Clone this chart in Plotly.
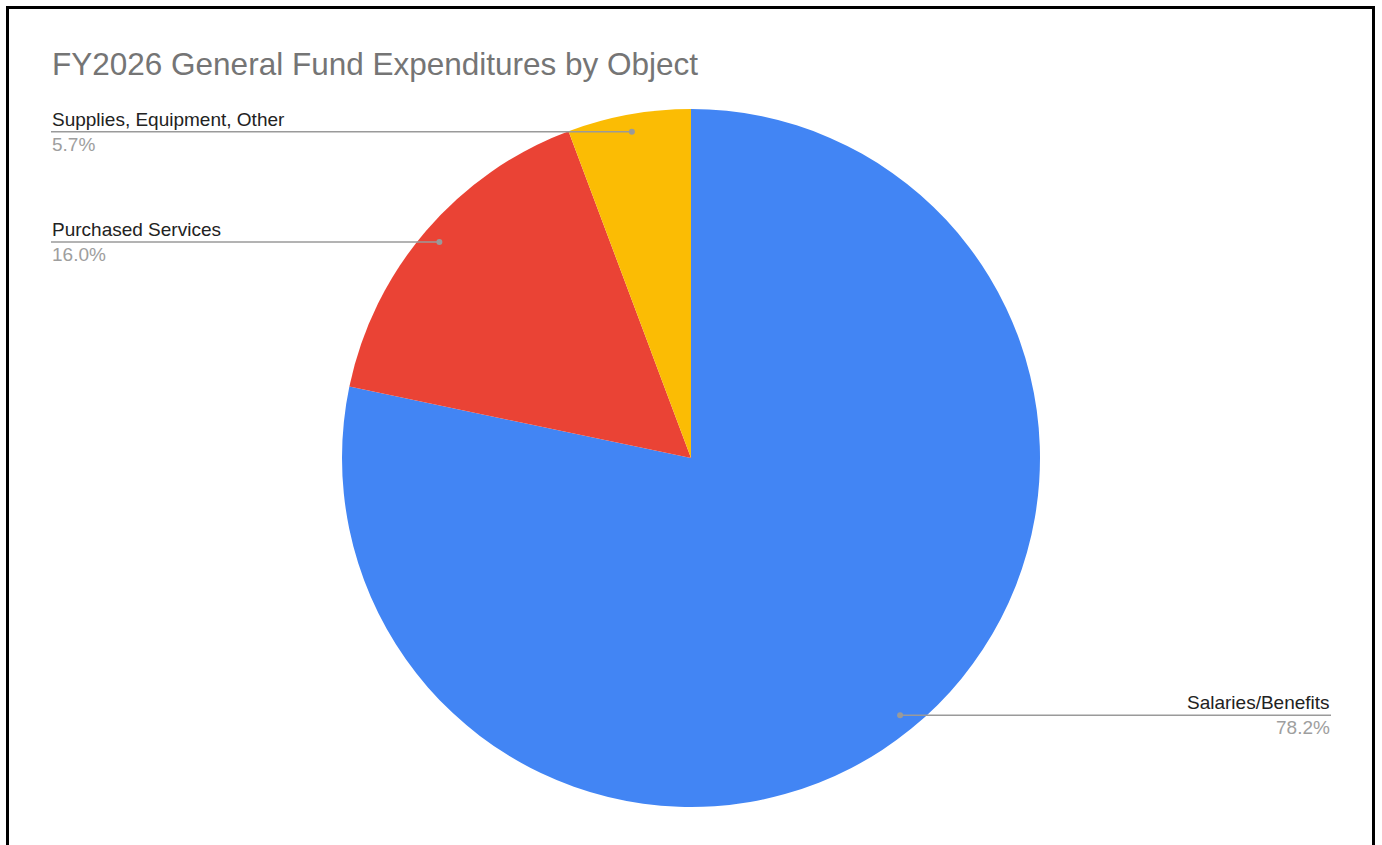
import math
import plotly.graph_objects as go

# Expenditure shares by object (percent of general fund)
categories = ["Salaries/Benefits", "Purchased Services", "Supplies, Equipment, Other"]
shares = [78.2, 16.0, 5.7]
colors = ["#4285F4", "#EA4335", "#FBBC04"]
title_text = "FY2026 General Fund Expenditures by Object"

W, H = 1382, 845
CX, CY, R = 691, 458, 349          # pie centre and radius in pixels
LEFT_X, RIGHT_X = 51, 1331          # label columns
FONT = "Liberation Sans"


def px(x):
    return x / W


def py(y):
    return 1 - y / H


fig = go.Figure()
fig.add_trace(go.Pie(
    labels=categories,
    values=shares,
    sort=False,
    direction="clockwise",
    rotation=0,
    marker=dict(colors=colors, line=dict(width=0)),
    textinfo="none",
    hoverinfo="label+percent",
    showlegend=False,
    domain=dict(x=[px(CX - R), px(CX + R)], y=[py(CY + R), py(CY - R)]),
))

shapes = []
annotations = []
total = sum(shares)
cum = 0.0
for name, val in zip(categories, shares):
    theta = math.radians(360 * (cum + val / 2) / total)
    cum += val
    dx = CX + 0.95 * R * math.sin(theta)
    dy = CY - 0.95 * R * math.cos(theta)
    left = dx < CX
    x_end = LEFT_X if left else RIGHT_X
    shapes.append(dict(type="line", xref="paper", yref="paper",
                       x0=px(x_end), x1=px(dx), y0=py(dy), y1=py(dy),
                       line=dict(color="#9a9a9a", width=1.5)))
    shapes.append(dict(type="circle", xref="paper", yref="paper",
                       x0=px(dx - 3), x1=px(dx + 3), y0=py(dy + 3), y1=py(dy - 3),
                       fillcolor="#9a9a9a", line=dict(width=0)))
    anchor = "left" if left else "right"
    annotations.append(dict(xref="paper", yref="paper", x=px(x_end), y=py(dy - 1),
                            text=name, showarrow=False, xanchor=anchor, yanchor="bottom",
                            font=dict(family=FONT, size=19, color="#222222"), borderpad=0))
    annotations.append(dict(xref="paper", yref="paper", x=px(x_end), y=py(dy + 1),
                            text=f"{val:.1f}%", showarrow=False, xanchor=anchor, yanchor="top",
                            font=dict(family=FONT, size=19, color="#9e9e9e"), borderpad=0))

# outer frame (open at the bottom)
shapes.append(dict(type="rect", xref="paper", yref="paper",
                   x0=px(7.5), x1=px(1373.5), y0=-0.2, y1=py(7.5),
                   line=dict(color="black", width=3)))

annotations.append(dict(xref="paper", yref="paper", x=px(LEFT_X), y=py(64),
                        text=title_text, showarrow=False, xanchor="left", yanchor="middle",
                        font=dict(family=FONT, size=31.5, color="#757575"), borderpad=0))

fig.update_layout(
    width=W, height=H,
    margin=dict(l=0, r=0, t=0, b=0),
    paper_bgcolor="white",
    plot_bgcolor="white",
    shapes=shapes,
    annotations=annotations,
)

fig.write_html("out.html")
